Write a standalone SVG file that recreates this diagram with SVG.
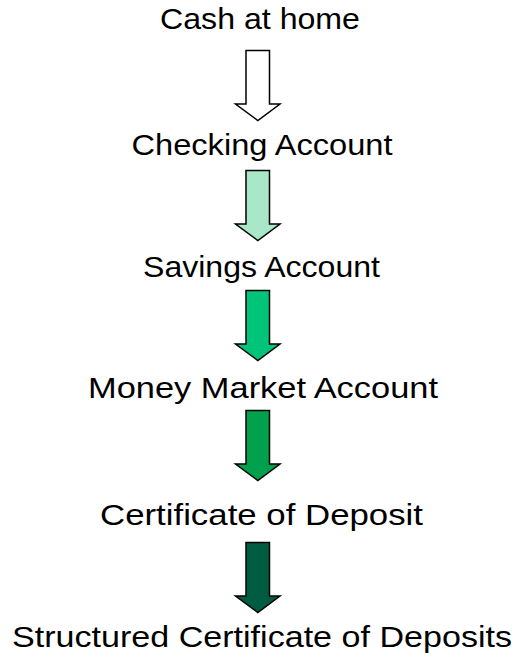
<svg xmlns="http://www.w3.org/2000/svg" width="520" height="657" viewBox="0 0 520 657">
  <style>
    .label { font-family: "Liberation Sans", Arial, sans-serif; font-size: 30px; fill: #000; text-anchor: middle; }
    .arrow { stroke: #000; stroke-width: 1.5; stroke-linejoin: miter; }
  </style>
  <defs>
    <!-- block arrow pointing down, origin at top centre of shaft -->
    <path id="down" d="M-12,0 H11.5 V53.5 H22 L-0.2,70 L-22.5,53.5 H-12 Z"/>
  </defs>
  <rect width="520" height="657" fill="#fff"/>

  <g id="cash"><text class="label" x="260" y="29" textLength="200" lengthAdjust="spacingAndGlyphs">Cash at home</text></g>
  <g id="checking"><text class="label" x="262" y="155" textLength="261" lengthAdjust="spacingAndGlyphs">Checking Account</text></g>
  <g id="savings"><text class="label" x="261.5" y="276.5" textLength="237" lengthAdjust="spacingAndGlyphs">Savings Account</text></g>
  <g id="moneymarket"><text class="label" x="263" y="398" textLength="350" lengthAdjust="spacingAndGlyphs">Money Market Account</text></g>
  <g id="cd"><text class="label" x="261.5" y="525" textLength="323" lengthAdjust="spacingAndGlyphs">Certificate of Deposit</text></g>
  <g id="structured"><text class="label" x="262" y="647" textLength="500" lengthAdjust="spacingAndGlyphs">Structured Certificate of Deposits</text></g>

  <g id="connectors">
    <use href="#down" class="arrow" x="258" y="50.5" fill="#ffffff"/>
    <use href="#down" class="arrow" x="258" y="170.5" fill="#a8e8c8"/>
    <use href="#down" class="arrow" x="258" y="290.5" fill="#00c47a"/>
    <use href="#down" class="arrow" x="258" y="410.5" fill="#00a04c"/>
    <use href="#down" class="arrow" x="258" y="542.5" fill="#005c40"/>
  </g>
</svg>
